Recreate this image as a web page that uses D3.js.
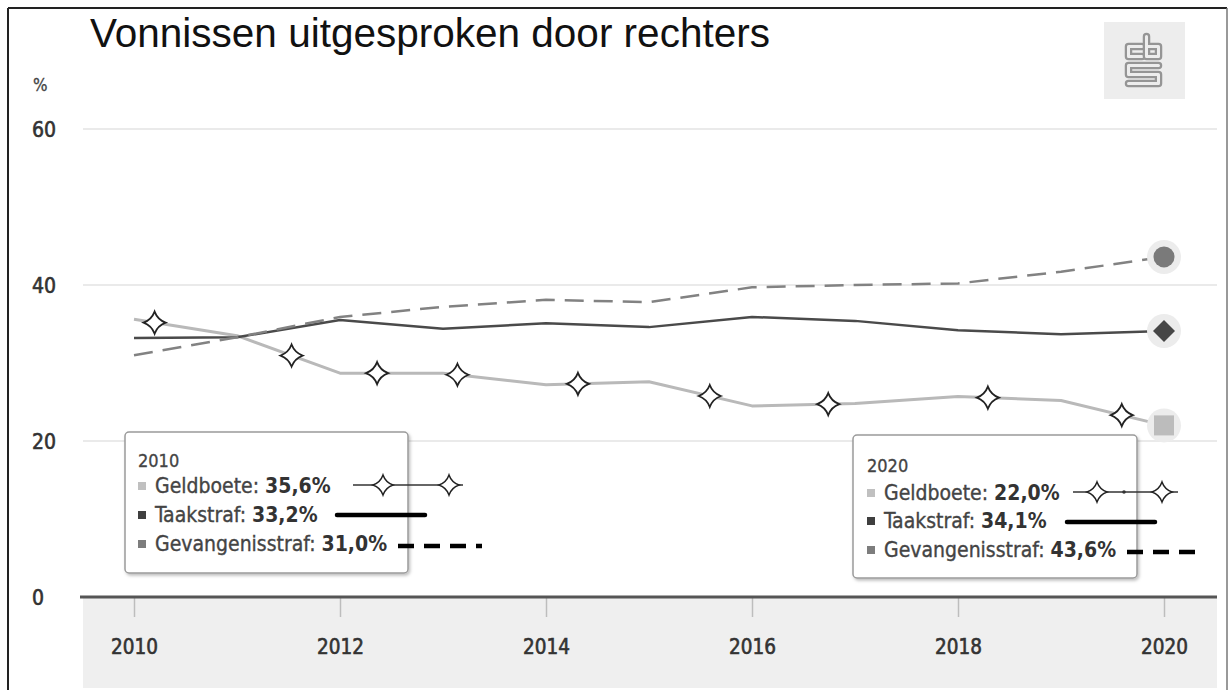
<!DOCTYPE html>
<html><head><meta charset="utf-8">
<script src="https://cdn.jsdelivr.net/npm/d3@7"></script>
<style>body{margin:0;background:#fff}svg{display:block}</style>
</head><body>
<svg id="c" width="1232" height="690"></svg>
<script>
// ---- data ----
const years = [2010, 2011, 2012, 2013, 2014, 2015, 2016, 2017, 2018, 2019, 2020];
const geldboete = [35.6, 33.5, 28.7, 28.7, 27.2, 27.6, 24.5, 24.8, 25.7, 25.2, 22.0];
const taakstraf = [33.2, 33.3, 35.5, 34.4, 35.1, 34.6, 35.9, 35.4, 34.2, 33.7, 34.1];
const gevangenisstraf = [31.0, 33.3, 35.9, 37.2, 38.1, 37.8, 39.7, 40.0, 40.2, 41.7, 43.6];
const seriesNames = ["Geldboete", "Taakstraf", "Gevangenisstraf"];
const yTicks = [0, 20, 40, 60];
const xTicks = [2010, 2012, 2014, 2016, 2018, 2020];
const starYears = [2010.2, 2011.53, 2012.36, 2013.14, 2014.31, 2015.59, 2016.74, 2018.29, 2019.59];
const legendYears = [2010, 2020];

// ---- setup ----
const svg = d3.select("#c");
const x = d3.scaleLinear().domain([2010, 2020]).range([134, 1164]);
const y = d3.scaleLinear().domain([0, 60]).range([597, 129]);
const plotL = 83, plotR = 1217;
const cond = "'DejaVu Sans Condensed', 'DejaVu Sans', sans-serif";
const series = [
  {name: seriesNames[0], values: geldboete, color: "#b9b9b9", w: 3, dash: null, mark: "square", legColor: "#c0c0c0"},
  {name: seriesNames[1], values: taakstraf, color: "#4a4a4a", w: 2.5, dash: null, mark: "diamond", legColor: "#3f3f3f"},
  {name: seriesNames[2], values: gevangenisstraf, color: "#828282", w: 2.5, dash: "19,10", mark: "circle", legColor: "#7d7d7d"}
];

const defs = svg.append("defs");
const f = defs.append("filter").attr("id", "sh").attr("x", "-10%").attr("y", "-10%").attr("width", "130%").attr("height", "130%");
f.append("feDropShadow").attr("dx", 1.5).attr("dy", 2).attr("stdDeviation", 1.5).attr("flood-color", "#000").attr("flood-opacity", 0.25);

// frame
svg.append("rect").attr("x", 0).attr("y", 0).attr("width", 1232).attr("height", 690).attr("fill", "#fff");
svg.append("line").attr("x1", 8).attr("x2", 8).attr("y1", 8).attr("y2", 690).attr("stroke", "#222").attr("stroke-width", 2);
svg.append("line").attr("x1", 8).attr("x2", 1227).attr("y1", 8).attr("y2", 8).attr("stroke", "#222").attr("stroke-width", 2);
svg.append("line").attr("x1", 1227).attr("x2", 1227).attr("y1", 8).attr("y2", 690).attr("stroke", "#777").attr("stroke-width", 1.5);

// title
svg.append("text").attr("x", 90).attr("y", 47)
  .attr("font-family", "'Liberation Sans', Arial, sans-serif").attr("font-size", 40.5).attr("fill", "#111")
  .text("Vonnissen uitgesproken door rechters");

// logo
const lg = svg.append("g").attr("transform", "translate(1104,22)");
lg.append("rect").attr("width", 81).attr("height", 77).attr("fill", "#ededed");
const logoPaths = ["M38,24.5 H24.5 V34.5 H38", "M42.5,14.5 V34.5 H54.5 V24.5 H42.5", "M54.5,43.5 H24.5 V52.5 H54.5 V61.5 H24.5"];
logoPaths.forEach(p => {
  lg.append("path").attr("d", p).attr("fill", "none").attr("stroke", "#959595").attr("stroke-width", 7.5).attr("stroke-linejoin", "round").attr("stroke-linecap", "round");
  lg.append("path").attr("d", p).attr("fill", "none").attr("stroke", "#ededed").attr("stroke-width", 3).attr("stroke-linejoin", "round").attr("stroke-linecap", "round");
});

// % unit
svg.append("text").attr("x", 33).attr("y", 91).attr("font-family", cond).attr("font-size", 17).attr("fill", "#444")
  .attr("stroke", "#444").attr("stroke-width", 0.3).text("%");

// x band
svg.append("rect").attr("x", plotL).attr("y", 598).attr("width", plotR - plotL).attr("height", 90).attr("fill", "#efefef");

// grid + y labels
yTicks.filter(v => v > 0).forEach(v => {
  svg.append("line").attr("x1", plotL).attr("x2", plotR).attr("y1", y(v)).attr("y2", y(v)).attr("stroke", "#e3e3e3").attr("stroke-width", 1.5);
});
svg.selectAll("text.yl").data(yTicks).join("text").attr("class", "yl")
  .attr("x", 32).attr("y", v => y(v) + 7.5).attr("font-family", cond).attr("font-size", 21).attr("fill", "#333")
  .attr("stroke", "#333").attr("stroke-width", 0.6).text(d => d);

// x axis
const xa = svg.append("g").attr("transform", "translate(0,598)")
  .call(d3.axisBottom(x).tickValues(xTicks).tickFormat(d3.format("d")).tickSize(19).tickPadding(22));
xa.select(".domain").remove();
xa.selectAll(".tick line").attr("stroke", "#bdbdbd").attr("stroke-width", 1.5);
xa.selectAll(".tick text").attr("font-family", cond).attr("font-size", 20.5).attr("fill", "#333")
  .attr("stroke", "#333").attr("stroke-width", 0.6);
svg.append("line").attr("x1", plotL - 3).attr("x2", plotR).attr("y1", 597).attr("y2", 597).attr("stroke", "#555").attr("stroke-width", 3);

// lines
const line = d3.line().x((d, i) => x(years[i])).y(d => y(d));
series.forEach(s => {
  svg.append("path").datum(s.values).attr("d", line).attr("fill", "none")
    .attr("stroke", s.color).attr("stroke-width", s.w).attr("stroke-dasharray", s.dash).attr("stroke-linejoin", "round");
});

// star path
function star(cx, cy, R, r) {
  return `M${cx},${cy - R} Q${cx + r},${cy - r} ${cx + R},${cy} Q${cx + r},${cy + r} ${cx},${cy + R} Q${cx - r},${cy + r} ${cx - R},${cy} Q${cx - r},${cy - r} ${cx},${cy - R}Z`;
}
const interp = d3.scaleLinear().domain(years).range(geldboete);
svg.selectAll("path.star").data(starYears).join("path").attr("class", "star")
  .attr("d", t => star(x(t), y(interp(t)), 11, 3))
  .attr("fill", "#fff").attr("stroke", "#222").attr("stroke-width", 1.8);

// end markers
const last = years.length - 1;
series.forEach(s => {
  const cx = x(years[last]), cy = y(s.values[last]);
  svg.append("circle").attr("cx", cx).attr("cy", cy).attr("r", 17).attr("fill", "#ececec");
  if (s.mark === "circle") svg.append("circle").attr("cx", cx).attr("cy", cy).attr("r", 10.5).attr("fill", "#7a7a7a");
  if (s.mark === "diamond") svg.append("path").attr("d", `M${cx},${cy - 11} L${cx + 11},${cy} L${cx},${cy + 11} L${cx - 11},${cy}Z`).attr("fill", "#464646");
  if (s.mark === "square") svg.append("rect").attr("x", cx - 10).attr("y", cy - 10).attr("width", 20).attr("height", 20).attr("fill", "#bcbcbc");
});

// legends (tooltips)
const boxes = [
  {yr: legendYears[0], bx: 125, by: 432, bw: 283, bh: 141, tx: 138, hy: 467, rows: [493, 522, 551],
   gl: [353, 463, 485], gs: [383, 449], tl: [337, 425, 515], dl: [398, 482, 546], dot: null},
  {yr: legendYears[1], bx: 853, by: 435, bw: 284, bh: 143, tx: 867, hy: 472, rows: [500, 528, 557],
   gl: [1073, 1178, 492], gs: [1097, 1162], tl: [1067, 1155, 522], dl: [1127, 1200, 552], dot: 1124}
];
const fmt = v => v.toFixed(1).replace(".", ",") + "%";
boxes.forEach(b => {
  const idx = years.indexOf(b.yr);
  svg.append("rect").attr("x", b.bx).attr("y", b.by).attr("width", b.bw).attr("height", b.bh).attr("rx", 4)
    .attr("fill", "#fff").attr("stroke", "#9a9a9a").attr("stroke-width", 1.5).attr("filter", "url(#sh)");
  svg.append("text").attr("x", b.tx).attr("y", b.hy).attr("font-family", cond).attr("font-size", 18).attr("fill", "#444")
    .attr("stroke", "#444").attr("stroke-width", 0.3).text(b.yr);
  series.forEach((s, i) => {
    const ry = b.rows[i];
    svg.append("rect").attr("x", b.tx).attr("y", ry - 11).attr("width", 8).attr("height", 8).attr("fill", s.legColor);
    const t = svg.append("text").attr("x", b.tx + 17).attr("y", ry).attr("font-family", cond).attr("font-size", 21).attr("fill", "#444");
    t.append("tspan").attr("stroke", "#444").attr("stroke-width", 0.35).text(s.name + ": ");
    t.append("tspan").attr("font-weight", "bold").attr("fill", "#333").text(fmt(s.values[idx]));
  });
  // sample line styles
  svg.append("line").attr("x1", b.gl[0]).attr("x2", b.gl[1]).attr("y1", b.gl[2]).attr("y2", b.gl[2]).attr("stroke", "#333").attr("stroke-width", 1.5);
  b.gs.forEach(sx => svg.append("path").attr("d", star(sx, b.gl[2], 10, 2.6)).attr("fill", "#fff").attr("stroke", "#222").attr("stroke-width", 1.5));
  if (b.dot) svg.append("circle").attr("cx", b.dot).attr("cy", b.gl[2]).attr("r", 1.8).attr("fill", "#333");
  svg.append("line").attr("x1", b.tl[0]).attr("x2", b.tl[1]).attr("y1", b.tl[2]).attr("y2", b.tl[2]).attr("stroke", "#000").attr("stroke-width", 4.5).attr("stroke-linecap", "round");
  svg.append("line").attr("x1", b.dl[0]).attr("x2", b.dl[1]).attr("y1", b.dl[2]).attr("y2", b.dl[2]).attr("stroke", "#000").attr("stroke-width", 4.5).attr("stroke-dasharray", "16,10");
});
</script>
</body></html>
